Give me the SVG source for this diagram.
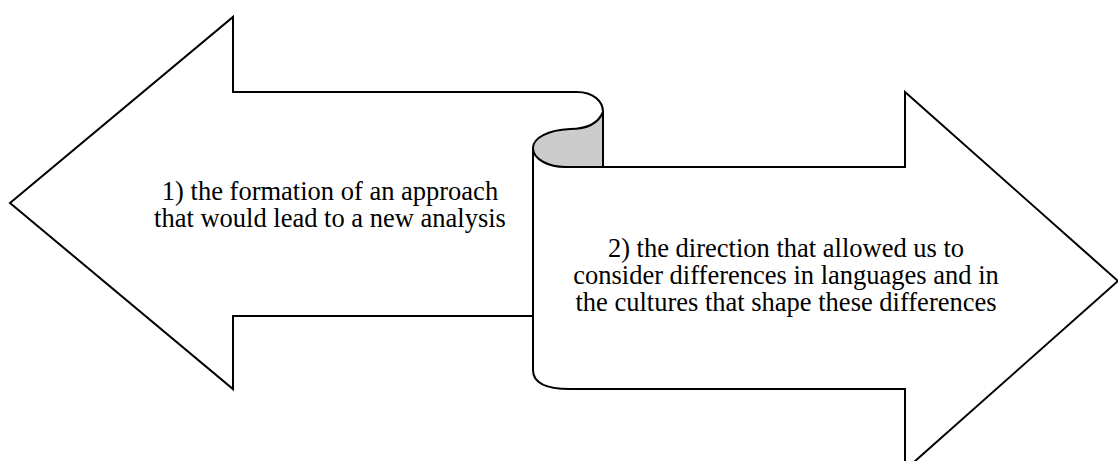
<svg xmlns="http://www.w3.org/2000/svg" width="1118" height="461" viewBox="0 0 1118 461">
<style>
.f{fill:#fff;stroke:none}
.s{fill:#fff;stroke:#000;stroke-width:2;stroke-linejoin:miter}
.c{fill:#cccccc;stroke:#000;stroke-width:2}
.l{fill:none;stroke:#000;stroke-width:2}
text{font-family:"Liberation Serif","Times New Roman",serif;font-size:26.5px;fill:#000;text-anchor:middle}
</style>
<g id="left-arrow">
<path class="f" d="M577,92 L233,92 L233,17 L10,203 L233,389 L233,316 L540,316 L540,92 Z"/>
<path class="l" d="M577,92 L233,92 L233,17 L10,203 L233,389 L233,316 L535,316"/>
<path class="l" d="M577,92 C593,92 603,101 603,112 L603,167"/>
<text x="330" y="200">1) the formation of an approach</text>
<text x="330" y="227">that would lead to a new analysis</text>
</g>
<g id="right-arrow">
<path class="s" d="M565,167 L905,167 L905,92 L1118,281 L905,470 L905,389 L570,389 Q533,389 533,370 L533,148 Z"/>
<path class="c" d="M603,112 C598,124 585,129 570,129 C548,130 533,138 533,148 C533,160 550,167 565,167 L603,167 Z"/>
<text x="786" y="257">2) the direction that allowed us to</text>
<text x="786" y="284">consider differences in languages and in</text>
<text x="786" y="311">the cultures that shape these differences</text>
</g>
<g id="connectors"></g>
</svg>
